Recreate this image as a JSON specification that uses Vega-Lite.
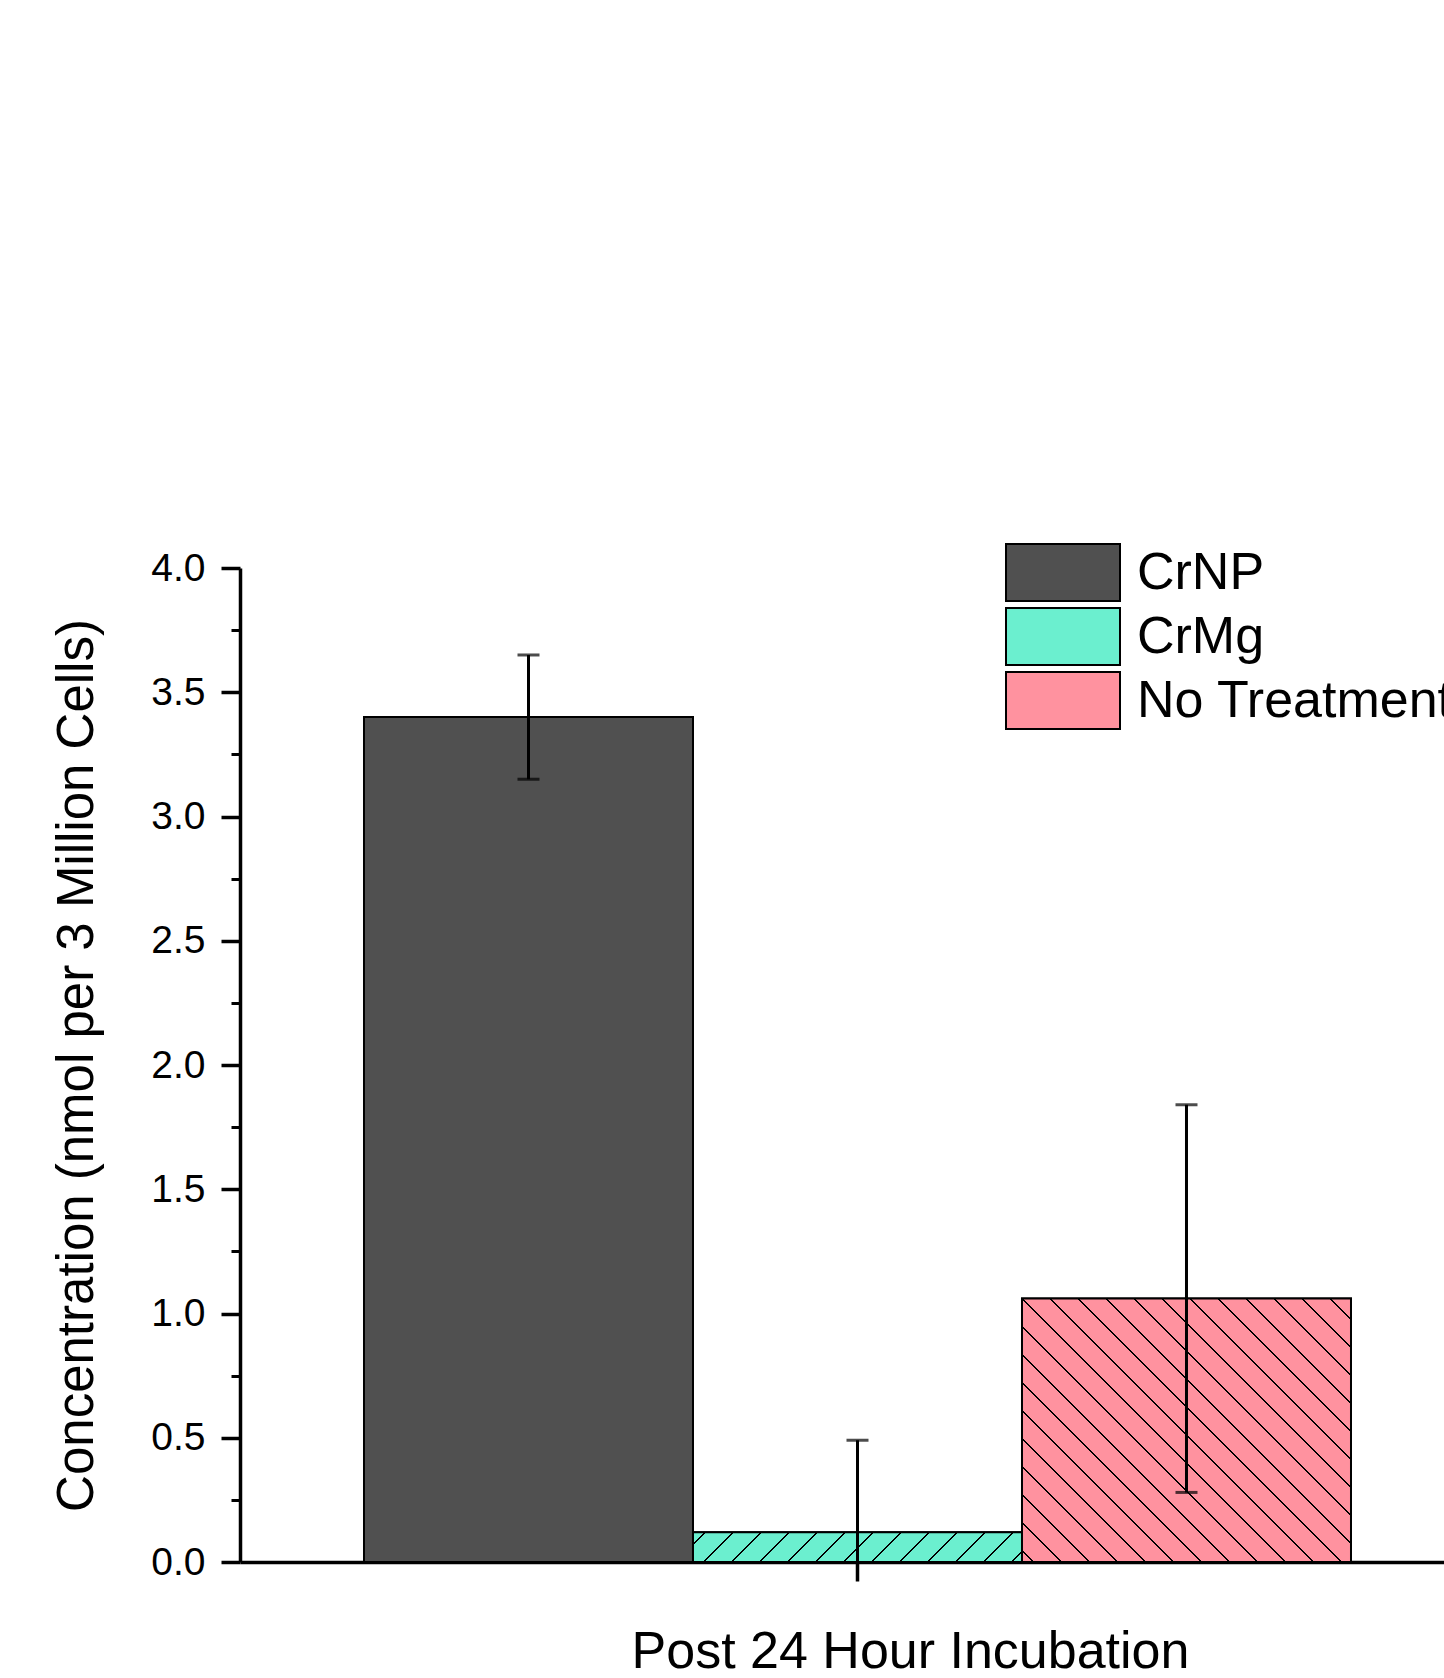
{
  "$schema": "https://vega.github.io/schema/vega-lite/v6.json",
  "width": 1204,
  "height": 994,
  "autosize": {"type": "none"},
  "padding": {"left": 240, "top": 568, "right": 0, "bottom": 116},
  "background": "white",
  "config": {
    "font": "Liberation Sans",
    "view": {"stroke": null},
    "axis": {"grid": false, "domainColor": "black", "tickColor": "black", "labelColor": "black", "titleColor": "black", "titleFontWeight": "normal"}
  },
  "data": {
    "values": [
      {"group": "CrNP", "value": 3.40, "lo": 3.15, "hi": 3.65},
      {"group": "CrMg", "value": 0.12, "lo": -0.25, "hi": 0.49},
      {"group": "No Treatment", "value": 1.06, "lo": 0.28, "hi": 1.84}
    ]
  },
  "resolve": {"axis": {"y": "independent"}},
  "encoding": {
    "x": {
      "field": "group",
      "type": "nominal",
      "sort": ["CrNP", "CrMg", "No Treatment"],
      "scale": {"domain": ["CrNP", "CrMg", "No Treatment"], "paddingInner": 0, "paddingOuter": 0.3298, "align": 0.5714},
      "axis": {
        "values": ["CrMg"],
        "labels": false,
        "tickSize": 19,
        "tickWidth": 3.5,
        "domainWidth": 3.5,
        "title": "Post 24 Hour Incubation",
        "titleFontSize": 52,
        "titleX": 670,
        "titleY": 105,
        "titleAlign": "center",
        "titleBaseline": "alphabetic"
      }
    }
  },
  "layer": [
    {
      "mark": {"type": "bar", "stroke": "black", "strokeWidth": 2},
      "encoding": {
        "y": {
          "field": "value",
          "type": "quantitative",
          "scale": {"domain": [0, 4], "nice": false, "zero": true},
          "axis": {
            "orient": "left",
            "values": [0, 0.5, 1, 1.5, 2, 2.5, 3, 3.5, 4],
            "format": ".1f",
            "tickSize": 19,
            "tickWidth": 3.5,
            "domainWidth": 3.5,
            "labelFontSize": 39,
            "labelPadding": 16,
            "title": "Concentration (nmol per 3 Million Cells)",
            "titleFontSize": 51,
            "titleAngle": 270,
            "titleX": -148,
            "titleY": 497,
            "titleAlign": "center",
            "titleBaseline": "alphabetic"
          }
        },
        "fill": {
          "field": "group",
          "type": "nominal",
          "sort": ["CrNP", "CrMg", "No Treatment"],
          "scale": {
            "domain": ["CrNP", "CrMg", "No Treatment"],
            "range": ["#505050", "#6BEFCF", "#FF929F"]
          },
          "legend": {
            "orient": "none",
            "legendX": 793.5,
            "legendY": -25,
            "title": null,
            "padding": 0,
            "symbolType": "M-2,-1H2V1H-2Z",
            "symbolSize": 3249,
            "symbolStrokeColor": "black",
            "symbolStrokeWidth": 2,
            "symbolOpacity": 1,
            "labelFontSize": 52,
            "labelColor": "black",
            "labelOffset": 44.5,
            "labelLimit": 0,
            "rowPadding": -1
          }
        }
      }
    },
    {
      "transform": [{"filter": "datum.group === 'CrMg'"}],
      "mark": {
        "type": "bar",
        "stroke": "black",
        "strokeWidth": 2,
        "fill": {"gradient": "linear", "x1": 0, "y1": 0, "x2": 1.0817, "y2": 0.098, "stops": [
          {"offset": 0, "color": "#6BEFCF"},
          {"offset": 0.0322, "color": "#6BEFCF"}, {"offset": 0.0322, "color": "#000"}, {"offset": 0.0378, "color": "#000"}, {"offset": 0.0378, "color": "#6BEFCF"},
          {"offset": 0.1102, "color": "#6BEFCF"}, {"offset": 0.1102, "color": "#000"}, {"offset": 0.1158, "color": "#000"}, {"offset": 0.1158, "color": "#6BEFCF"},
          {"offset": 0.1882, "color": "#6BEFCF"}, {"offset": 0.1882, "color": "#000"}, {"offset": 0.1938, "color": "#000"}, {"offset": 0.1938, "color": "#6BEFCF"},
          {"offset": 0.2662, "color": "#6BEFCF"}, {"offset": 0.2662, "color": "#000"}, {"offset": 0.2718, "color": "#000"}, {"offset": 0.2718, "color": "#6BEFCF"},
          {"offset": 0.3442, "color": "#6BEFCF"}, {"offset": 0.3442, "color": "#000"}, {"offset": 0.3498, "color": "#000"}, {"offset": 0.3498, "color": "#6BEFCF"},
          {"offset": 0.4222, "color": "#6BEFCF"}, {"offset": 0.4222, "color": "#000"}, {"offset": 0.4278, "color": "#000"}, {"offset": 0.4278, "color": "#6BEFCF"},
          {"offset": 0.5002, "color": "#6BEFCF"}, {"offset": 0.5002, "color": "#000"}, {"offset": 0.5058, "color": "#000"}, {"offset": 0.5058, "color": "#6BEFCF"},
          {"offset": 0.5782, "color": "#6BEFCF"}, {"offset": 0.5782, "color": "#000"}, {"offset": 0.5838, "color": "#000"}, {"offset": 0.5838, "color": "#6BEFCF"},
          {"offset": 0.6562, "color": "#6BEFCF"}, {"offset": 0.6562, "color": "#000"}, {"offset": 0.6618, "color": "#000"}, {"offset": 0.6618, "color": "#6BEFCF"},
          {"offset": 0.7342, "color": "#6BEFCF"}, {"offset": 0.7342, "color": "#000"}, {"offset": 0.7398, "color": "#000"}, {"offset": 0.7398, "color": "#6BEFCF"},
          {"offset": 0.8122, "color": "#6BEFCF"}, {"offset": 0.8122, "color": "#000"}, {"offset": 0.8178, "color": "#000"}, {"offset": 0.8178, "color": "#6BEFCF"},
          {"offset": 0.8902, "color": "#6BEFCF"}, {"offset": 0.8902, "color": "#000"}, {"offset": 0.8958, "color": "#000"}, {"offset": 0.8958, "color": "#6BEFCF"},
          {"offset": 0.9682, "color": "#6BEFCF"}, {"offset": 0.9682, "color": "#000"}, {"offset": 0.9738, "color": "#000"}, {"offset": 0.9738, "color": "#6BEFCF"},
          {"offset": 1, "color": "#6BEFCF"}
        ]}
      },
      "encoding": {
        "y": {"field": "value", "type": "quantitative", "axis": null}
      }
    },
    {
      "transform": [{"filter": "datum.group === 'No Treatment'"}],
      "mark": {
        "type": "bar",
        "stroke": "black",
        "strokeWidth": 2,
        "fill": {"gradient": "linear", "x1": 0, "y1": 1, "x2": 1.0973, "y2": 0.1215, "stops": [
          {"offset": 0, "color": "#FF929F"},
          {"offset": 0.0175, "color": "#FF929F"}, {"offset": 0.0175, "color": "#000"}, {"offset": 0.0209, "color": "#000"}, {"offset": 0.0209, "color": "#FF929F"},
          {"offset": 0.0648, "color": "#FF929F"}, {"offset": 0.0648, "color": "#000"}, {"offset": 0.0682, "color": "#000"}, {"offset": 0.0682, "color": "#FF929F"},
          {"offset": 0.1120, "color": "#FF929F"}, {"offset": 0.1120, "color": "#000"}, {"offset": 0.1154, "color": "#000"}, {"offset": 0.1154, "color": "#FF929F"},
          {"offset": 0.1593, "color": "#FF929F"}, {"offset": 0.1593, "color": "#000"}, {"offset": 0.1627, "color": "#000"}, {"offset": 0.1627, "color": "#FF929F"},
          {"offset": 0.2066, "color": "#FF929F"}, {"offset": 0.2066, "color": "#000"}, {"offset": 0.2100, "color": "#000"}, {"offset": 0.2100, "color": "#FF929F"},
          {"offset": 0.2538, "color": "#FF929F"}, {"offset": 0.2538, "color": "#000"}, {"offset": 0.2572, "color": "#000"}, {"offset": 0.2572, "color": "#FF929F"},
          {"offset": 0.3011, "color": "#FF929F"}, {"offset": 0.3011, "color": "#000"}, {"offset": 0.3045, "color": "#000"}, {"offset": 0.3045, "color": "#FF929F"},
          {"offset": 0.3483, "color": "#FF929F"}, {"offset": 0.3483, "color": "#000"}, {"offset": 0.3517, "color": "#000"}, {"offset": 0.3517, "color": "#FF929F"},
          {"offset": 0.3956, "color": "#FF929F"}, {"offset": 0.3956, "color": "#000"}, {"offset": 0.3990, "color": "#000"}, {"offset": 0.3990, "color": "#FF929F"},
          {"offset": 0.4429, "color": "#FF929F"}, {"offset": 0.4429, "color": "#000"}, {"offset": 0.4463, "color": "#000"}, {"offset": 0.4463, "color": "#FF929F"},
          {"offset": 0.4902, "color": "#FF929F"}, {"offset": 0.4902, "color": "#000"}, {"offset": 0.4936, "color": "#000"}, {"offset": 0.4936, "color": "#FF929F"},
          {"offset": 0.5374, "color": "#FF929F"}, {"offset": 0.5374, "color": "#000"}, {"offset": 0.5408, "color": "#000"}, {"offset": 0.5408, "color": "#FF929F"},
          {"offset": 0.5847, "color": "#FF929F"}, {"offset": 0.5847, "color": "#000"}, {"offset": 0.5881, "color": "#000"}, {"offset": 0.5881, "color": "#FF929F"},
          {"offset": 0.6320, "color": "#FF929F"}, {"offset": 0.6320, "color": "#000"}, {"offset": 0.6354, "color": "#000"}, {"offset": 0.6354, "color": "#FF929F"},
          {"offset": 0.6792, "color": "#FF929F"}, {"offset": 0.6792, "color": "#000"}, {"offset": 0.6826, "color": "#000"}, {"offset": 0.6826, "color": "#FF929F"},
          {"offset": 0.7265, "color": "#FF929F"}, {"offset": 0.7265, "color": "#000"}, {"offset": 0.7299, "color": "#000"}, {"offset": 0.7299, "color": "#FF929F"},
          {"offset": 0.7738, "color": "#FF929F"}, {"offset": 0.7738, "color": "#000"}, {"offset": 0.7772, "color": "#000"}, {"offset": 0.7772, "color": "#FF929F"},
          {"offset": 0.8211, "color": "#FF929F"}, {"offset": 0.8211, "color": "#000"}, {"offset": 0.8245, "color": "#000"}, {"offset": 0.8245, "color": "#FF929F"},
          {"offset": 0.8683, "color": "#FF929F"}, {"offset": 0.8683, "color": "#000"}, {"offset": 0.8717, "color": "#000"}, {"offset": 0.8717, "color": "#FF929F"},
          {"offset": 0.9156, "color": "#FF929F"}, {"offset": 0.9156, "color": "#000"}, {"offset": 0.9190, "color": "#000"}, {"offset": 0.9190, "color": "#FF929F"},
          {"offset": 0.9629, "color": "#FF929F"}, {"offset": 0.9629, "color": "#000"}, {"offset": 0.9663, "color": "#000"}, {"offset": 0.9663, "color": "#FF929F"},
          {"offset": 1, "color": "#FF929F"}
        ]}
      },
      "encoding": {
        "y": {"field": "value", "type": "quantitative", "axis": null}
      }
    },
    {
      "mark": {"type": "rule", "color": "black", "strokeWidth": 3, "clip": true},
      "encoding": {
        "y": {
          "field": "lo",
          "type": "quantitative",
          "axis": {
            "orient": "left",
            "values": [0.25, 0.75, 1.25, 1.75, 2.25, 2.75, 3.25, 3.75],
            "labels": false,
            "domain": false,
            "tickSize": 9,
            "tickWidth": 3,
            "title": null
          }
        },
        "y2": {"field": "hi"}
      }
    },
    {
      "mark": {"type": "tick", "color": "black", "size": 22, "thickness": 3, "orient": "horizontal", "clip": true},
      "encoding": {
        "y": {"field": "hi", "type": "quantitative", "axis": null}
      }
    },
    {
      "mark": {"type": "tick", "color": "black", "size": 22, "thickness": 3, "orient": "horizontal", "clip": true},
      "encoding": {
        "y": {"field": "lo", "type": "quantitative", "axis": null}
      }
    }
  ]
}
